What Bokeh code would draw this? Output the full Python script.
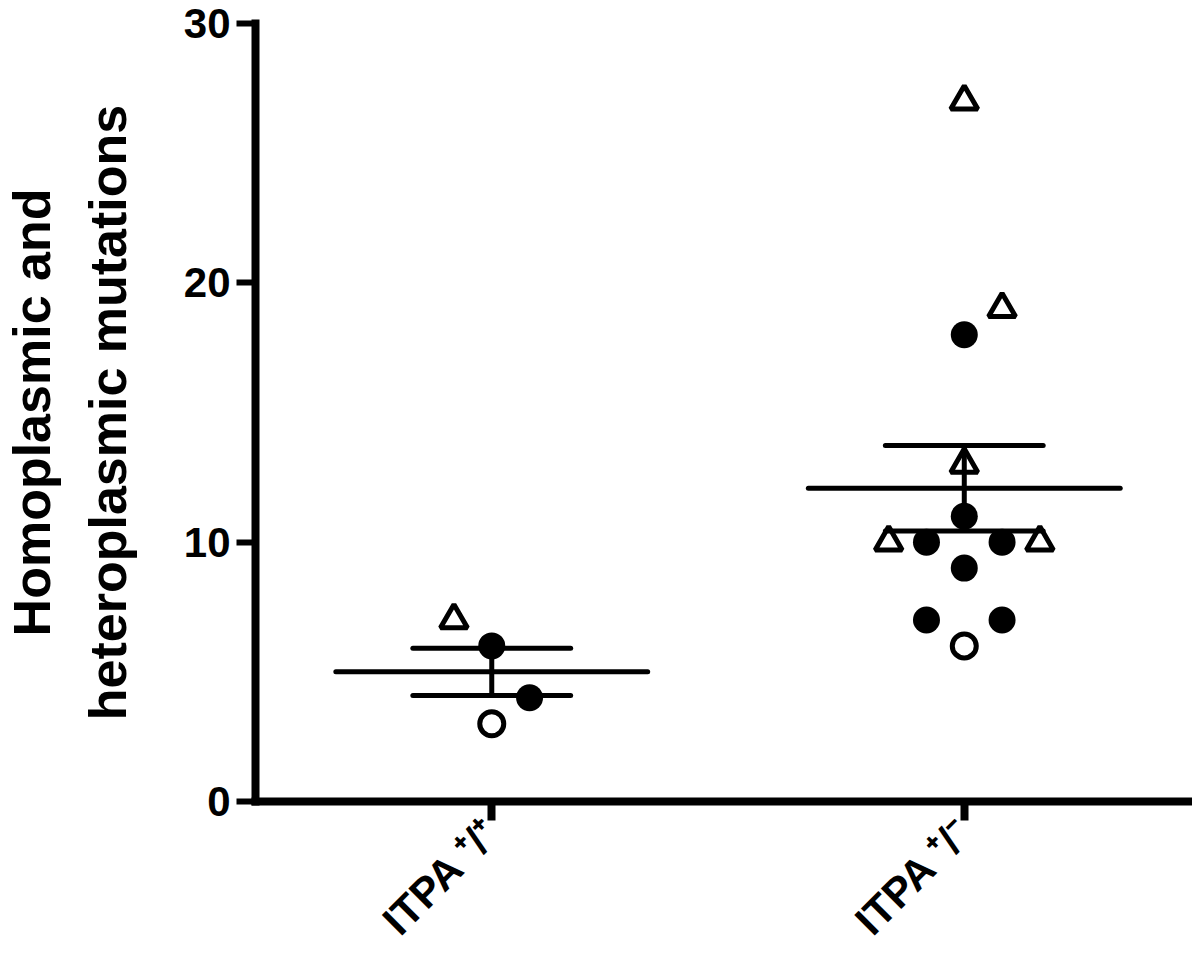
import math
import numpy as np
from bokeh.plotting import figure
from bokeh.models import Range1d, FixedTicker
from bokeh.embed import file_html
from bokeh.resources import INLINE

# ---- data -------------------------------------------------------------
groups = ["ITPA \u207a/\u207a", "ITPA \u207a/\u207b"]
group_pos = [1, 2]
y_ticks = [0, 10, 20, 30]
y_title = "Homoplasmic and\nheteroplasmic mutations"

# open triangles
tri_group = [1, 2, 2, 2, 2, 2]
tri_values = [7, 27, 19, 13, 10, 10]
tri_jitter = [-0.08, 0.0, 0.08, 0.0, -0.16, 0.16]

# filled circles
filled_group = [1, 1, 2, 2, 2, 2, 2, 2, 2]
filled_values = [6, 4, 18, 11, 10, 10, 9, 7, 7]
filled_jitter = [0.0, 0.08, 0.0, 0.0, -0.08, 0.08, 0.0, -0.08, 0.08]

# open circles
open_group = [1, 2]
open_values = [3, 6]
open_jitter = [0.0, 0.0]

FONT = "Liberation Sans"

p = figure(width=1192, height=964,
           x_range=Range1d(0.5, 2.483), y_range=Range1d(0, 30),
           output_backend="svg", toolbar_location=None,
           min_border_left=254, min_border_right=0,
           min_border_top=23, min_border_bottom=163)
p.grid.visible = False
p.outline_line_color = None
p.background_fill_color = "white"
p.border_fill_color = "white"

# ---- points -----------------------------------------------------------
tx = [g + j for g, j in zip(tri_group, tri_jitter)]
fx = [g + j for g, j in zip(filled_group, filled_jitter)]
ox = [g + j for g, j in zip(open_group, open_jitter)]

p.scatter(tx, tri_values, marker="triangle", size=27, line_width=5,
          line_color="black", fill_color=None)
p.scatter(fx, filled_values, marker="circle", size=27, line_width=0,
          line_color="black", fill_color="black")
p.scatter(ox, open_values, marker="circle", size=24, line_width=5,
          line_color="black", fill_color="white")

# ---- mean +/- SEM -------------------------------------------------------
all_g = tri_group + filled_group + open_group
all_v = tri_values + filled_values + open_values
means, sems = [], []
for g in group_pos:
    v = np.array([val for gg, val in zip(all_g, all_v) if gg == g], dtype=float)
    means.append(v.mean())
    sems.append(v.std(ddof=1) / math.sqrt(len(v)))

gp = np.array(group_pos, dtype=float)
m = np.array(means)
s = np.array(sems)
p.segment(gp - 0.33, m, gp + 0.33, m, line_width=5, line_color="black", line_cap="round")
p.segment(gp - 0.167, m + s, gp + 0.167, m + s, line_width=5, line_color="black", line_cap="round")
p.segment(gp - 0.167, m - s, gp + 0.167, m - s, line_width=5, line_color="black", line_cap="round")
p.segment(gp, m - s, gp, m + s, line_width=5, line_color="black")

# ---- axes ---------------------------------------------------------------
ya = p.yaxis[0]
ya.ticker = FixedTicker(ticks=y_ticks)
ya.axis_line_width = 8
ya.axis_line_cap = "square"
ya.major_tick_line_width = 6
ya.major_tick_out = 19
ya.major_tick_in = 0
ya.minor_tick_line_color = None
ya.major_label_text_font = FONT
ya.major_label_text_font_size = "42px"
ya.major_label_text_font_style = "bold"
ya.major_label_text_color = "black"
ya.major_label_standoff = 6
ya.axis_label = y_title
ya.axis_label_text_font = FONT
ya.axis_label_text_font_size = "52px"
ya.axis_label_text_font_style = "bold"
ya.axis_label_text_color = "black"
ya.axis_label_text_line_height = 1.3
ya.axis_label_standoff = 44

xa = p.xaxis[0]
xa.ticker = FixedTicker(ticks=group_pos)
xa.major_label_overrides = {g: lab for g, lab in zip(group_pos, groups)}
xa.axis_line_width = 8
xa.axis_line_cap = "square"
xa.major_tick_line_width = 8
xa.major_tick_out = 19
xa.major_tick_in = 0
xa.minor_tick_line_color = None
xa.major_label_orientation = math.pi / 4
xa.major_label_text_font = FONT
xa.major_label_text_font_size = "42px"
xa.major_label_text_font_style = "bold"
xa.major_label_text_color = "black"
xa.major_label_standoff = 5

open("out.html", "w").write(file_html(p, INLINE))
